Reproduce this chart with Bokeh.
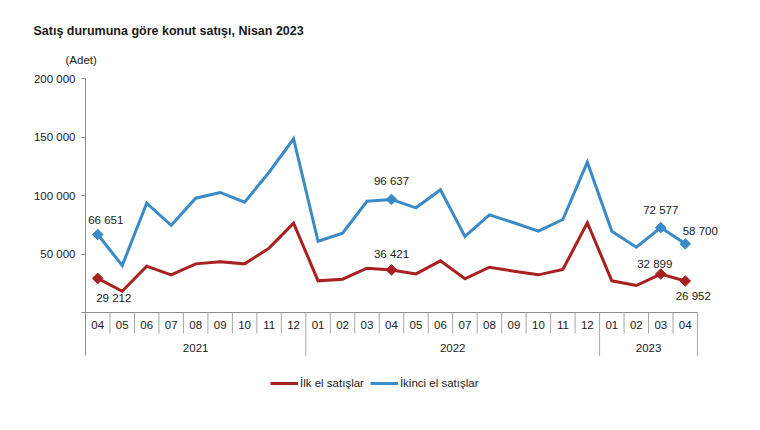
import math
from bokeh.plotting import figure
from bokeh.models import (Range1d, FixedTicker, CustomJSTickFormatter, Title,
                          Legend, LegendItem, ColumnDataSource)
from bokeh.core.properties import value
from bokeh.embed import file_html
from bokeh.resources import INLINE

# ---- data ----
months = ["04", "05", "06", "07", "08", "09", "10", "11", "12",
          "01", "02", "03", "04", "05", "06", "07", "08", "09", "10", "11", "12",
          "01", "02", "03", "04"]
years = ["2021"] * 9 + ["2022"] * 12 + ["2023"] * 4
ilk_el = [29212, 18200, 39600, 32200, 41600, 43300, 41600, 55000, 76300,
          27100, 28500, 37900, 36421, 33000, 44200, 28800, 38700, 35300, 32200, 36750, 76700,
          27100, 23100, 32899, 26952]
ikinci_el = [66651, 40200, 93400, 74400, 97700, 102600, 94300, 119900, 148500,
             60900, 67800, 95100, 96637, 89500, 104900, 65000, 83500, 76700, 69500, 79500, 128500,
             69500, 55800, 72577, 58700]
y_ticks = [0, 50000, 100000, 150000, 200000]
marked = [0, 12, 23, 24]

title_text = "Satış durumuna göre konut satışı, Nisan 2023"
unit_text = "(Adet)"
series_names = ["İlk el satışlar", "İkinci el satışlar"]

RED = "#A8201F"
BLUE = "#3A8AC8"
FONT = "Liberation Sans"
TXT = "#1a1a1a"

def fmt(v):
    return f"{v:,}".replace(",", " ")

xs = list(range(len(months)))
PX = 24.48          # pixels per month
PXY = 854.7         # units per pixel on y
Y_LOW = -88000
FRAME_W = 637
FRAME_H = round((200000 - Y_LOW) / PXY)

p = figure(frame_width=FRAME_W, frame_height=FRAME_H, output_backend="svg", toolbar_location=None,
           title=None,
           x_range=Range1d(-0.5, -0.5 + FRAME_W / PX), y_range=Range1d(Y_LOW, 200000),
           min_border_left=85, min_border_right=22, min_border_top=78, min_border_bottom=4)
p.outline_line_color = None
p.xgrid.visible = False
p.ygrid.visible = False
p.xaxis.visible = False
p.background_fill_color = "white"
p.border_fill_color = "white"

ya = p.yaxis[0]
ya.ticker = FixedTicker(ticks=y_ticks)
ya.bounds = (-37000, 200000)
ya.formatter = CustomJSTickFormatter(code="""
if (tick == 0) { return ""; }
return tick.toString().replace(/\\B(?=(\\d{3})+(?!\\d))/g, " ");
""")
ya.axis_line_color = "#8C8C8C"
ya.major_tick_line_color = "#8C8C8C"
ya.major_tick_out = 4
ya.major_tick_in = 0
ya.minor_tick_line_color = None
ya.major_label_text_font = FONT
ya.major_label_text_font_size = "11.5px"
ya.major_label_text_color = TXT
ya.major_label_standoff = 6

# x-axis baseline
p.segment(x0=[xs[0] - 0.5], y0=[0], x1=[xs[-1] + 0.5], y1=[0], line_color="#8C8C8C", line_width=1)

# month separators and year separators
m_bounds = [i - 0.5 for i in range(1, len(months)) if years[i] == years[i - 1]]
y_bounds = [i - 0.5 for i in range(1, len(months)) if years[i] != years[i - 1]] + [len(months) - 0.5]
p.segment(x0=m_bounds, y0=[0] * len(m_bounds), x1=m_bounds, y1=[-18000] * len(m_bounds),
          line_color="#A6A6A6", line_width=1)
p.segment(x0=y_bounds, y0=[0] * len(y_bounds), x1=y_bounds, y1=[-37000] * len(y_bounds),
          line_color="#A6A6A6", line_width=1)

# month labels
p.text(x=xs, y=[-11000] * len(xs), text=months, text_align="center", text_baseline="middle",
       text_font=value(FONT), text_font_size="11.5px", text_color=TXT)

# year labels
yr_names, yr_centers = [], []
for yname in dict.fromkeys(years):
    idx = [i for i, yv in enumerate(years) if yv == yname]
    yr_names.append(yname)
    yr_centers.append((idx[0] + idx[-1]) / 2)
p.text(x=yr_centers, y=[-30000] * len(yr_centers), text=yr_names, text_align="center",
       text_baseline="middle", text_font=value(FONT), text_font_size="11.5px", text_color=TXT)

# lines
r_ilk = p.line(xs, ilk_el, line_color=RED, line_width=3, line_join="miter")
r_iki = p.line(xs, ikinci_el, line_color=BLUE, line_width=3, line_join="miter")

# markers (rotated squares = diamonds)
p.scatter([xs[i] for i in marked], [ilk_el[i] for i in marked], marker="square", size=7.5,
          angle=math.pi / 4, fill_color=RED, line_color=RED)
p.scatter([xs[i] for i in marked], [ikinci_el[i] for i in marked], marker="square", size=7.5,
          angle=math.pi / 4, fill_color=BLUE, line_color=BLUE)

# data labels
ilk_off = [(16, 20), (0, -16), (-6, -10), (8, 15)]
iki_off = [(8, -15), (0, -18), (0, -18), (15, -13)]
lab = ColumnDataSource(dict(
    x=[xs[i] for i in marked] * 2,
    y=[ilk_el[i] for i in marked] + [ikinci_el[i] for i in marked],
    t=[fmt(ilk_el[i]) for i in marked] + [fmt(ikinci_el[i]) for i in marked],
    dx=[o[0] for o in ilk_off] + [o[0] for o in iki_off],
    dy=[o[1] for o in ilk_off] + [o[1] for o in iki_off],
))
p.text(x="x", y="y", text="t", x_offset="dx", y_offset="dy", source=lab,
       text_align="center", text_baseline="middle", text_font=value(FONT),
       text_font_size="11.5px", text_color=TXT)

# titles (nearest to frame first)
p.add_layout(Title(text=unit_text, align="left", offset=-20, standoff=25,
                   text_font=FONT, text_font_size="11.5px", text_font_style="normal",
                   text_color=TXT), "above")
p.add_layout(Title(text=title_text, align="left", offset=-52, standoff=4,
                   text_font=FONT, text_font_size="12.5px", text_font_style="bold",
                   text_color=TXT), "above")

legend = Legend(items=[LegendItem(label=series_names[0], renderers=[r_ilk]),
                       LegendItem(label=series_names[1], renderers=[r_iki])],
                orientation="horizontal", location=(185, 25),
                glyph_width=28, glyph_height=14, label_height=14, label_standoff=2,
                spacing=6, padding=0, margin=0, border_line_color=None,
                background_fill_alpha=0,
                label_text_font=FONT, label_text_font_size="11.5px", label_text_color=TXT)
p.add_layout(legend, "center")

open("out.html", "w").write(file_html(p, INLINE))
